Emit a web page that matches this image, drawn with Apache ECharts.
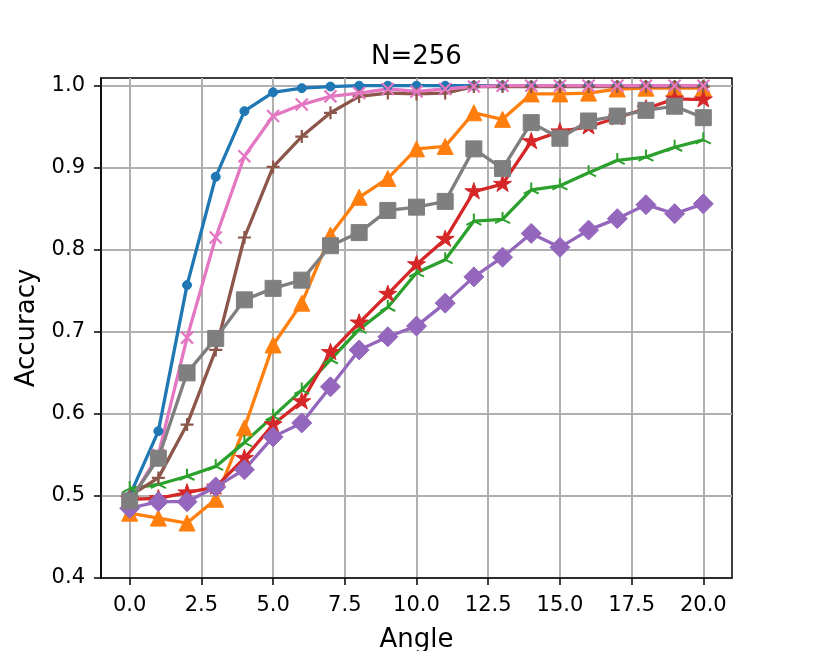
<!DOCTYPE html>
<html>
<head>
<meta charset="utf-8">
<script src="https://cdn.jsdelivr.net/npm/echarts@6/dist/echarts.min.js"></script>
<style>
  html, body { margin: 0; padding: 0; background: #fff; }
  #chart { width: 814px; height: 651px; }
</style>
</head>
<body>
<div id="chart"></div>
<script>
// x positions and tick labels
var angles = [0, 1, 2, 3, 4, 5, 6, 7, 8, 9, 10, 11, 12, 13, 14, 15, 16, 17, 18, 19, 20];
var xTicks = [0, 2.5, 5, 7.5, 10, 12.5, 15, 17.5, 20];
var yTicks = [0.4, 0.5, 0.6, 0.7, 0.8, 0.9, 1.0];

// accuracy per angle, one array per curve
var accBlue   = [0.500, 0.579, 0.757, 0.889, 0.969, 0.992, 0.997, 0.999, 1.000, 1.000, 1.000, 1.000, 1.000, 1.000, 1.000, 1.000, 1.000, 1.000, 1.000, 1.000, 1.000];
var accOrange = [0.479, 0.473, 0.467, 0.496, 0.583, 0.684, 0.735, 0.818, 0.864, 0.887, 0.923, 0.926, 0.967, 0.959, 0.990, 0.990, 0.991, 0.996, 0.997, 0.997, 0.997];
var accGreen  = [0.509, 0.514, 0.524, 0.536, 0.565, 0.597, 0.629, 0.666, 0.703, 0.730, 0.772, 0.788, 0.835, 0.837, 0.873, 0.878, 0.894, 0.909, 0.913, 0.925, 0.934];
var accRed    = [0.496, 0.497, 0.504, 0.511, 0.546, 0.587, 0.615, 0.675, 0.711, 0.746, 0.782, 0.813, 0.871, 0.880, 0.932, 0.944, 0.950, 0.961, 0.972, 0.984, 0.983];
var accPurple = [0.485, 0.493, 0.493, 0.511, 0.532, 0.572, 0.589, 0.633, 0.678, 0.694, 0.707, 0.735, 0.767, 0.791, 0.820, 0.803, 0.824, 0.838, 0.855, 0.844, 0.856];
var accBrown  = [0.500, 0.522, 0.587, 0.678, 0.815, 0.901, 0.938, 0.967, 0.987, 0.991, 0.990, 0.991, 0.999, 0.999, 0.999, 0.999, 0.999, 0.999, 0.999, 0.999, 0.999];
var accPink   = [0.493, 0.550, 0.693, 0.815, 0.914, 0.963, 0.977, 0.987, 0.991, 0.996, 0.993, 0.996, 0.999, 1.000, 1.000, 1.000, 1.000, 1.000, 1.000, 1.000, 1.000];
var accGray   = [0.494, 0.546, 0.650, 0.692, 0.739, 0.753, 0.763, 0.805, 0.821, 0.848, 0.852, 0.859, 0.923, 0.899, 0.955, 0.936, 0.957, 0.963, 0.970, 0.975, 0.961];

(function () {
    var el = document.getElementById('chart');
    var chart = echarts.init(el, null, { renderer: 'canvas' });
    var font = 'DejaVu Sans';

    // matplotlib-like marker shapes
    var STAR = 'path://M0,-10L2.245,-3.09L9.51,-3.09L3.633,1.18L5.878,8.09L0,3.82L-5.878,8.09L-3.633,1.18L-9.51,-3.09L-2.245,-3.09ZM0,10L0.01,10';
    var TRI  = 'path://M0,0L0,-10M0,0L-8.66,5M0,0L8.66,5M0,10L0.01,10';
    var PLUS = 'path://M-10,0L10,0M0,-10L0,10';
    var CROSS = 'path://M-10,-10L10,10M-10,10L10,-10';

    function pairs(ys) {
        return angles.map(function (a, i) { return [a, ys[i]]; });
    }

    function line(ys, color, symbol, size, bw) {
        return {
            type: 'line',
            data: pairs(ys),
            symbol: symbol,
            symbolSize: size,
            showAllSymbol: true,
            lineStyle: { color: color, width: 3.3 },
            itemStyle: { color: color, borderColor: color, borderWidth: bw },
            emphasis: { disabled: true },
            animation: false
        };
    }

    chart.setOption({
        backgroundColor: '#ffffff',
        animation: false,
        title: {
            text: 'N=256',
            left: 371,
            top: 44,
            padding: 0,
            textStyle: { fontFamily: font, fontSize: 26, fontWeight: 'normal', color: '#000' }
        },
        grid: {
            left: 101, top: 78, width: 631, height: 500,
            outerBoundsMode: 'none',
            containLabel: false,
            show: true, borderColor: '#000', borderWidth: 1.5, backgroundColor: 'transparent'
        },
        xAxis: {
            type: 'value',
            min: -1, max: 21,
            name: 'Angle',
            nameLocation: 'middle',
            nameGap: 49,
            nameTextStyle: { fontFamily: font, fontSize: 26, color: '#000' },
            axisLine: { show: true, onZero: false, lineStyle: { color: '#000', width: 1.5 } },
            axisTick: { show: true, customValues: xTicks, length: 7, lineStyle: { color: '#000', width: 1.5 } },
            axisLabel: {
                customValues: xTicks,
                margin: 17,
                fontFamily: font, fontSize: 21, color: '#000',
                formatter: function (v) { return v.toFixed(1); }
            },
            splitLine: { show: true, lineStyle: { color: '#b0b0b0', width: 2 } }
        },
        yAxis: {
            type: 'value',
            min: 0.4, max: 1.0094,
            name: 'Accuracy',
            nameLocation: 'middle',
            nameGap: 54,
            nameTextStyle: { fontFamily: font, fontSize: 26, color: '#000' },
            axisLine: { show: true, onZero: false, lineStyle: { color: '#000', width: 1.5 } },
            axisTick: { show: true, customValues: yTicks, length: 7, lineStyle: { color: '#000', width: 1.5 } },
            axisLabel: {
                customValues: yTicks,
                margin: 16,
                fontFamily: font, fontSize: 21, color: '#000',
                formatter: function (v) { return v.toFixed(1); }
            },
            splitLine: { show: true, lineStyle: { color: '#b0b0b0', width: 2 } }
        },
        series: [
            line(accBlue,   '#1f77b4', 'circle',   9,  1),
            line(accOrange, '#ff7f0e', 'triangle', 16, 1),
            line(accGreen,  '#2ca02c', TRI,        15, 2),
            line(accRed,    '#d62728', STAR,       18, 1),
            line(accPurple, '#9467bd', 'diamond',  20, 1),
            line(accBrown,  '#8c564b', PLUS,       13, 2.2),
            line(accPink,   '#e377c2', CROSS,      12, 2.2),
            line(accGray,   '#7f7f7f', 'rect',     16, 1)
        ]
    });

    window.addEventListener('resize', function () { chart.resize(); });
})();
</script>
</body>
</html>
